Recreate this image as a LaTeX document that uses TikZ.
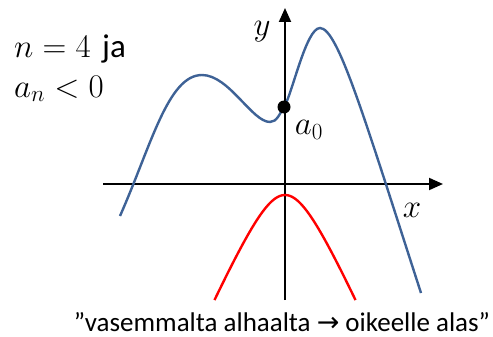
\RequirePackage{fix-cm}
\documentclass[tikz,border=0pt]{standalone}
\usepackage{fontspec}
\setmainfont{Carlito}
\newfontfamily\arrowfont{DejaVu Sans}
\usetikzlibrary{arrows.meta}
\definecolor{curveblue}{RGB}{62,98,150}
\definecolor{curvered}{RGB}{255,0,0}
\tikzset{
  axisline/.style={line width=2pt,-{Triangle[length=14pt,width=12pt]}},
  bluecurve/.style={curveblue,line width=2.4pt},
  redcurve/.style={curvered,line width=2.4pt},
  lbl/.style={inner sep=0pt,font=\fontsize{33}{37}\selectfont},
  caption/.style={inner sep=0pt,font=\fontsize{27}{31}\selectfont},
}
\begin{document}
\begin{tikzpicture}[x=1pt,y=-1pt]
\useasboundingbox (0,0) rectangle (493,337);
\coordinate (xs) at (103,184);
\coordinate (xe) at (443,184);
\coordinate (ys) at (285,300);
\coordinate (ye) at (285,8);
\draw[axisline] (xs) -- (xe);
\draw[axisline] (ys) -- (ye);
\coordinate (b0) at (120,216);
\coordinate (b1) at (202,75);
\coordinate (b2) at (270,122);
\coordinate (b3) at (284,107);
\coordinate (b4) at (320,28);
\coordinate (b5) at (421,293);
\draw[bluecurve] (b0) .. controls (151,146) and (168,75) .. (b1)
  .. controls (229,75) and (252,122) .. (b2)
  .. controls (277,122) and (280,113) .. (b3)
  .. controls (292,95) and (306,28) .. (b4)
  .. controls (338,28) and (365,120) .. (b5);
\draw[redcurve] plot[domain=-70.5:70.5,samples=80,smooth] ({285+\x},{195+67.6*(sqrt(1+(\x/30)^2)-1)});
\node[circle,fill=black,inner sep=0pt,minimum size=13pt] (a0) at (b3) {};
\node[lbl,anchor=base west] (l1) at (14,58) {$n=4$\hspace{4pt} ja};
\node[lbl,anchor=base west] (l2) at (14,97) {$a_n<0$};
\node[lbl] (ylab) at (262,32) {$y$};
\node[lbl] (xlab) at (412,210) {$x$};
\node[lbl] (a0lab) at (309,130) {$a_0$};
\node[caption,anchor=base] (cap) at (282,331) {”vasemmalta alhaalta {\arrowfont →} oikeelle alas”};
\end{tikzpicture}
\end{document}
